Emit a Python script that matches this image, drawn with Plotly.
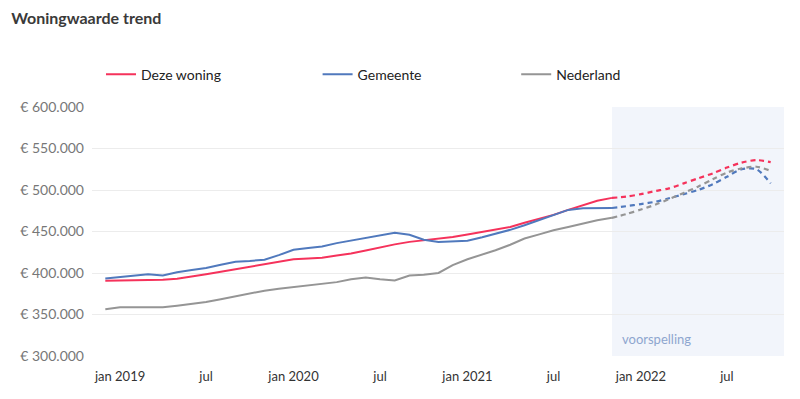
import pandas as pd
import plotly.graph_objects as go

# ---- data ----
hist_dates = pd.date_range("2018-12-01", periods=36, freq="MS")
fc_dates = pd.date_range("2021-11-01", periods=12, freq="MS")

deze_woning = [390.7, 391, 391, 391, 392, 393, 395.5, 398.5, 401.5, 404.5, 408, 410.5,
               413.5, 416.5, 417.5, 418.5, 421, 423.5, 427, 431, 434.5, 437.5, 439.5, 441,
               443.5, 446.5, 449.5, 452, 455.5, 460.5, 465, 470, 476, 482, 487, 490.5]
gemeente = [393.5, 395.5, 397.5, 398.5, 397, 401, 403.5, 406, 410, 413.5, 414.5, 416,
            421.5, 428, 430, 432, 436, 439, 443, 446, 448.5, 446, 440, 437.5,
            438, 439, 443, 447, 452, 457.5, 463.5, 470, 476, 478, 478.3, 478.3]
nederland = [356.2, 358.6, 358.6, 358.6, 358.6, 360.5, 362.5, 365, 368.5, 372, 376, 378.7,
             381, 383, 385, 386.5, 389, 392.5, 394.5, 392.5, 391, 397, 398, 400,
             409.5, 416.5, 422, 427.5, 434, 441.5, 446.5, 451.5, 455.5, 459.5, 463.5, 466.5]

deze_woning_fc = [490.5, 492, 495, 498.8, 502, 508, 514, 520, 527, 533, 536, 533.5]
gemeente_fc = [478.3, 480.5, 483, 486, 490, 495, 500, 507, 516, 525, 525, 508]
nederland_fc = [466.5, 471, 476.5, 482.5, 489, 496.5, 504, 513, 521, 526, 528, 523]

series_names = ["Deze woning", "Gemeente", "Nederland"]
colors = ["#f5325b", "#5079bd", "#959595"]

y_tickvals = [300, 350, 400, 450, 500, 550, 600]
y_ticktext = ["€ 300.000", "€ 350.000", "€ 400.000", "€ 450.000", "€ 500.000", "€ 550.000", "€ 600.000"]
x_tickvals = ["2019-01-01", "2019-07-01", "2020-01-01", "2020-07-01", "2021-01-01",
              "2021-07-01", "2022-01-01", "2022-07-01"]
x_ticktext = ["jan 2019", "jul", "jan 2020", "jul", "jan 2021", "jul", "jan 2022", "jul"]

FONT = "Lato"

fig = go.Figure()

hist = [deze_woning, gemeente, nederland]
fc = [deze_woning_fc, gemeente_fc, nederland_fc]
legend_ids = ["legend", "legend2", "legend3"]

for name, col, h, f, lg in zip(series_names, colors, hist, fc, legend_ids):
    fig.add_trace(go.Scatter(x=hist_dates, y=h, mode="lines", name=name,
                             line=dict(color=col, width=2), legend=lg,
                             hoverinfo="skip"))
    fig.add_trace(go.Scatter(x=fc_dates, y=f, mode="lines", name=name + " voorspelling",
                             line=dict(color=col, width=2.2, dash="5px,4px", shape="spline",
                                       smoothing=0.8),
                             showlegend=False, hoverinfo="skip"))

fig.add_shape(type="rect", xref="x", yref="paper", x0="2021-11-01", x1="2022-10-29",
              y0=0, y1=1, fillcolor="#f2f5fb", line_width=0, layer="below")

fig.add_annotation(xref="x", yref="paper", x="2021-11-18", y=0.07, text="voorspelling",
                   showarrow=False, xanchor="left", yanchor="middle",
                   font=dict(family=FONT, size=13, color="#8ea6cf"))

leg_common = dict(orientation="h", yanchor="middle", y=1.13, xanchor="left",
                  font=dict(family=FONT, size=14, color="#222222"),
                  bgcolor="rgba(0,0,0,0)", borderwidth=0, itemwidth=30)

# page body has an 8px margin, so the figure is 8px smaller in each direction
fig.update_layout(
    width=792, height=391,
    margin=dict(l=80, r=16, t=99, b=43),
    paper_bgcolor="white", plot_bgcolor="white",
    font=dict(family=FONT, size=14, color="#333333"),
    title=dict(text="<b>Woningwaarde trend</b>", xref="container", yref="container",
               x=0.004, xanchor="left", y=1 - 10.5 / 391, yanchor="middle",
               font=dict(family=FONT, size=16, color="#3a3a3a")),
    legend=dict(x=0.013, **leg_common),
    legend2=dict(x=0.326, **leg_common),
    legend3=dict(x=0.613, **leg_common),
    xaxis=dict(type="date", range=["2018-11-03", "2022-10-29"],
               tickvals=x_tickvals, ticktext=x_ticktext, showgrid=False,
               zeroline=False, showline=False, ticks="", ticklabelstandoff=11,
               tickfont=dict(family=FONT, size=13, color="#333333")),
    yaxis=dict(range=[300, 600], tickvals=y_tickvals, ticktext=y_ticktext,
               showgrid=True, gridcolor="#ececec", gridwidth=1, zeroline=False,
               showline=False, ticks="", ticklabelstandoff=7,
               tickfont=dict(family=FONT, size=14, color="#777777")),
    showlegend=True,
)

fig.write_html("out.html")
